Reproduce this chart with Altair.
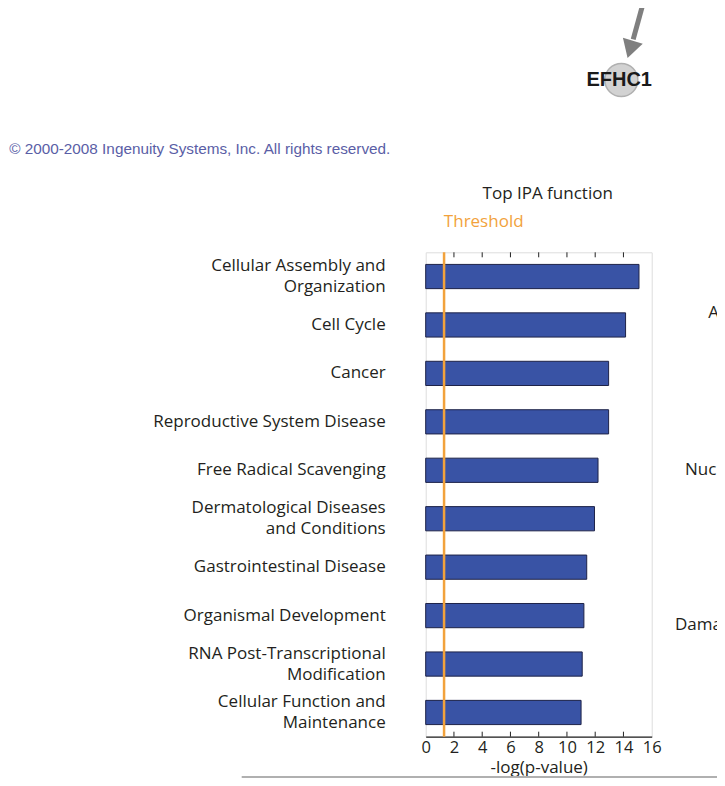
import altair as alt
import pandas as pd

# ---- data ----
functions = [
    "Cellular Assembly and\nOrganization",
    "Cell Cycle",
    "Cancer",
    "Reproductive System Disease",
    "Free Radical Scavenging",
    "Dermatological Diseases\nand Conditions",
    "Gastrointestinal Disease",
    "Organismal Development",
    "RNA Post-Transcriptional\nModification",
    "Cellular Function and\nMaintenance",
]
neg_log_p = [15.1, 14.15, 12.95, 12.95, 12.2, 11.95, 11.4, 11.2, 11.08, 11.0]
threshold = 1.3
tick_values = [0, 2, 4, 6, 8, 10, 12, 14, 16]
inner_ticks = [2, 4, 6, 8, 10, 12, 14]
cutoff_labels = ["Ar", "Nucle", "Damag"]

FONT = "Open Sans"
W, H = 226, 484.4
BAR = "#3953a5"
ORANGE = "#f2a23c"
INK = "#231f20"

df = pd.DataFrame({"function": functions, "value": neg_log_p})
order = functions

x_scale = alt.Scale(domain=[0, 16], nice=False, zero=True)
y_scale = alt.Scale(paddingInner=0.5, paddingOuter=0.25)
x_axis = alt.Axis(values=tick_values, title="-log(p-value)", grid=False,
                  ticks=False, domainColor="#222", domainWidth=1.2,
                  labelFont=FONT, labelFontSize=16.5, labelColor=INK,
                  labelPadding=3, labelFlush=False, labelOverlap=False,
                  titleFont=FONT, titleFontSize=17, titleFontWeight="normal",
                  titleColor=INK, titlePadding=3)

bars = alt.Chart(df).mark_bar(color=BAR, stroke="#1e2348", strokeWidth=1).encode(
    x=alt.X("value:Q", scale=x_scale, axis=x_axis),
    y=alt.Y("function:N", sort=order, scale=y_scale, axis=None),
)

labels_single = alt.Chart(df).mark_text(
    align="right", baseline="middle", font=FONT, fontSize=17, color=INK,
    lineBreak="\n", lineHeight=21,
).transform_filter(
    "indexof(datum.function, '\\n') < 0"
).encode(
    y=alt.Y("function:N", sort=order, scale=y_scale, axis=None),
    x=alt.value(-40),
    text="function:N",
)
labels_multi = alt.Chart(df).mark_text(
    align="right", baseline="middle", font=FONT, fontSize=17, color=INK,
    lineBreak="\n", lineHeight=21, dy=-10.5,
).transform_filter(
    "indexof(datum.function, '\\n') >= 0"
).encode(
    y=alt.Y("function:N", sort=order, scale=y_scale, axis=None),
    x=alt.value(-40),
    text="function:N",
)

thr = alt.Chart(pd.DataFrame({"value": [threshold]})).mark_rule(
    color=ORANGE, strokeWidth=2.5
).encode(x=alt.X("value:Q", scale=x_scale, axis=x_axis), y=alt.value(0), y2=alt.value(H))

tk = pd.DataFrame({"value": inner_ticks})
ticks_bottom = alt.Chart(tk).mark_rule(color="#222", strokeWidth=1).encode(
    x=alt.X("value:Q", scale=x_scale, axis=x_axis), y=alt.value(H), y2=alt.value(H - 5))
ticks_top = alt.Chart(tk).mark_rule(color="#222", strokeWidth=1).encode(
    x=alt.X("value:Q", scale=x_scale, axis=x_axis), y=alt.value(0), y2=alt.value(5))

title = alt.Chart(pd.DataFrame({"s": ["Top IPA function"]})).mark_text(
    font=FONT, fontSize=17, color=INK, align="center", baseline="middle"
).encode(x=alt.value(122), y=alt.value(-58), text="s:N")

thr_label = alt.Chart(pd.DataFrame({"s": ["Threshold"]})).mark_text(
    font=FONT, fontSize=17, color=ORANGE, align="center", baseline="middle"
).encode(x=alt.value(58), y=alt.value(-30), text="s:N")

copyright_txt = alt.Chart(pd.DataFrame({"s": ["\u00a9 2000-2008 Ingenuity Systems, Inc. All rights reserved."]})).mark_text(
    font="Liberation Sans", fontSize=15.3, color="#5a5ea6", align="left", baseline="middle"
).encode(x=alt.value(-416.5), y=alt.value(-103), text="s:N")

# network fragment
shaft = alt.Chart(pd.DataFrame({"a": [0]})).mark_rule(color="#7f7f7f", strokeWidth=5).encode(
    x=alt.value(221), x2=alt.value(207.5), y=alt.value(-262), y2=alt.value(-213))
head = alt.Chart(pd.DataFrame({"a": [0]})).mark_point(
    shape="triangle-down", filled=True, color="#7f7f7f", size=430, angle=17, opacity=1
).encode(x=alt.value(204.5), y=alt.value(-203))
node = alt.Chart(pd.DataFrame({"a": [0]})).mark_point(
    shape="circle", filled=True, fill="#d2d2d2", stroke="#b0b0b0", strokeWidth=1.5,
    size=1090, opacity=1
).encode(x=alt.value(195.6), y=alt.value(-172.3))
node_label = alt.Chart(pd.DataFrame({"s": ["EFHC1"]})).mark_text(
    font="Liberation Sans", fontSize=20, fontWeight="bold", color="#1a1a1a",
    align="center", baseline="middle"
).encode(x=alt.value(193.5), y=alt.value(-172), text="s:N")

# cut-off labels of neighbouring panel
cut_x = [282.6, 259.3, 249.3]
cut_y = [60.7, 217.7, 372.7]
cut_layers = [
    alt.Chart(pd.DataFrame({"s": [s]})).mark_text(
        font=FONT, fontSize=17, color=INK, align="left", baseline="middle"
    ).encode(x=alt.value(cx), y=alt.value(cy), text="s:N")
    for s, cx, cy in zip(cutoff_labels, cut_x, cut_y)
]

bottom_line = alt.Chart(pd.DataFrame({"a": [0]})).mark_rule(color="#b0b0b0", strokeWidth=2).encode(
    x=alt.value(-184), x2=alt.value(300), y=alt.value(524.8))

chart = alt.layer(
    bars, thr, ticks_bottom, ticks_top, labels_single, labels_multi, title, thr_label,
    copyright_txt, shaft, head, node, node_label, *cut_layers, bottom_line,
).properties(
    width=W, height=H,
    autosize=alt.AutoSizeParams(type="none"),
    padding={"left": 417.7, "top": 244.3, "right": 65.3, "bottom": 41.3},
).configure_view(stroke="#444", strokeWidth=1.2).configure(background="white")

chart.save("out.html", embed_options={"renderer": "svg", "actions": False})
